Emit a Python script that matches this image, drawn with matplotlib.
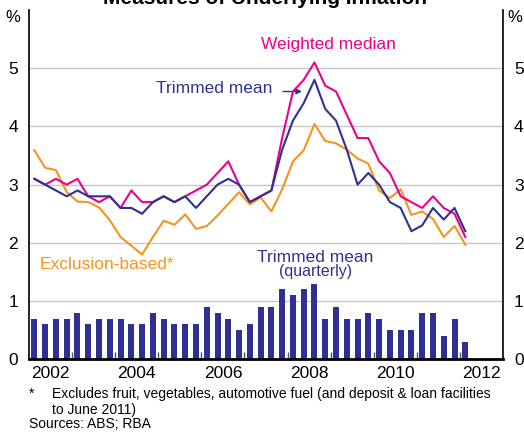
import matplotlib
matplotlib.use("Agg")
import matplotlib.pyplot as plt
import numpy as np

plt.rcParams["font.family"] = ["Liberation Sans", "DejaVu Sans"]

# quarterly, Sep 2001 to Sep 2011 (plotted at mid-quarter)
start_year = 2001.625
trimmed_mean = [3.1, 3.0, 2.9, 2.8, 2.9, 2.8, 2.8, 2.8, 2.6, 2.6, 2.5, 2.7, 2.8, 2.7,
                2.8, 2.6, 2.8, 3.0, 3.1, 3.0, 2.7, 2.8, 2.9, 3.6, 4.1, 4.4, 4.8, 4.3,
                4.1, 3.6, 3.0, 3.2, 3.0, 2.7, 2.6, 2.2, 2.3, 2.6, 2.4, 2.6, 2.2]
weighted_median = [3.1, 3.0, 3.1, 3.0, 3.1, 2.8, 2.7, 2.8, 2.6, 2.9, 2.7, 2.7, 2.8, 2.7,
                   2.8, 2.9, 3.0, 3.2, 3.4, 3.0, 2.7, 2.8, 2.9, 3.8, 4.6, 4.8, 5.1, 4.7,
                   4.6, 4.2, 3.8, 3.8, 3.4, 3.2, 2.8, 2.7, 2.6, 2.8, 2.6, 2.5, 2.1]
exclusion_based = [3.59, 3.29, 3.25, 2.87, 2.71, 2.70, 2.61, 2.39, 2.10, 1.95, 1.80, 2.10,
                   2.38, 2.31, 2.49, 2.24, 2.29, 2.47, 2.67, 2.87, 2.66, 2.78, 2.54, 2.92,
                   3.40, 3.59, 4.04, 3.75, 3.71, 3.60, 3.45, 3.36, 2.90, 2.77, 2.92, 2.48,
                   2.54, 2.41, 2.10, 2.29, 1.97]
trimmed_quarterly = [0.7, 0.6, 0.7, 0.7, 0.8, 0.6, 0.7, 0.7, 0.7, 0.6, 0.6, 0.8, 0.7, 0.6,
                     0.6, 0.6, 0.9, 0.8, 0.7, 0.5, 0.6, 0.9, 0.9, 1.2, 1.1, 1.2, 1.3, 0.7,
                     0.9, 0.7, 0.7, 0.8, 0.7, 0.5, 0.5, 0.5, 0.8, 0.8, 0.4, 0.7, 0.3]
year_labels = [2002, 2004, 2006, 2008, 2010, 2012]

x = start_year + 0.25 * np.arange(len(trimmed_mean))

navy = "#2e3192"
pink = "#ec008c"
orange = "#f7941d"

fig = plt.figure(figsize=(5.24, 4.34), dpi=100)
ax = fig.add_axes([29 / 524, 1 - 359.3 / 434, 474 / 524, 349.3 / 434])

ax.bar(x, trimmed_quarterly, width=0.14, color=navy, zorder=2)
ax.plot(x, exclusion_based, color=orange, lw=1.5, zorder=3)
ax.plot(x, weighted_median, color=pink, lw=1.5, zorder=4)
ax.plot(x, trimmed_mean, color=navy, lw=1.5, zorder=5)

ax.set_xlim(2001.5, 2012.5)
ax.set_ylim(0, 6)
ax.set_yticks([0, 1, 2, 3, 4, 5])
ax.yaxis.grid(True, color="#c8c8c8", lw=1, zorder=0)
ax.set_axisbelow(True)
ax.tick_params(axis="y", length=0, labelsize=12.5, pad=8, labelright=True)

ax.set_xticks(year_labels)
ax.set_xticklabels([str(y) for y in year_labels])
ax.set_xticks(np.arange(2002.5, 2012, 1.0), minor=True)
ax.tick_params(axis="x", which="major", length=0, labelsize=12.5, pad=5)
ax.tick_params(axis="x", which="minor", direction="in", length=5, width=1, color="#555555")

ax.spines["top"].set_visible(False)
for s in ["left", "right"]:
    ax.spines[s].set_linewidth(1.2)
ax.spines["bottom"].set_linewidth(2)

ax.text(2008.46, 5.4, "Weighted median", color=pink, fontsize=12.5, ha="center", va="center")
ax.text(2005.8, 4.66, "Trimmed mean", color=navy, fontsize=12.5, ha="center", va="center")
ax.annotate("", xy=(2007.9, 4.6), xytext=(2007.33, 4.6),
            arrowprops=dict(arrowstyle="-|>", color=navy, lw=1, mutation_scale=8))
ax.text(2001.75, 1.63, "Exclusion-based*", color=orange, fontsize=12.5, ha="left", va="center")
ax.text(2008.15, 1.75, "Trimmed mean", color=navy, fontsize=12.5, ha="center", va="center")
ax.text(2008.15, 1.5, "(quarterly)", color=navy, fontsize=11.5, ha="center", va="center")

fig.text(13 / 524, 1 - 17 / 434, "%", fontsize=12, ha="center", va="center")
fig.text(515 / 524, 1 - 17 / 434, "%", fontsize=12, ha="center", va="center")
fig.text(265 / 524, 1 - 4 / 434, "Measures of Underlying Inflation", fontsize=15,
         fontweight="bold", ha="center", va="baseline")

fig.text(29 / 524, 1 - 394 / 434, "*", fontsize=10, ha="left", va="center")
fig.text(52 / 524, 1 - 394 / 434,
         "Excludes fruit, vegetables, automotive fuel (and deposit & loan facilities",
         fontsize=10, ha="left", va="center")
fig.text(52 / 524, 1 - 410 / 434, "to June 2011)", fontsize=10, ha="left", va="center")
fig.text(29 / 524, 1 - 424 / 434, "Sources: ABS; RBA", fontsize=10, ha="left", va="center")

fig.savefig("out.png", dpi=100)
